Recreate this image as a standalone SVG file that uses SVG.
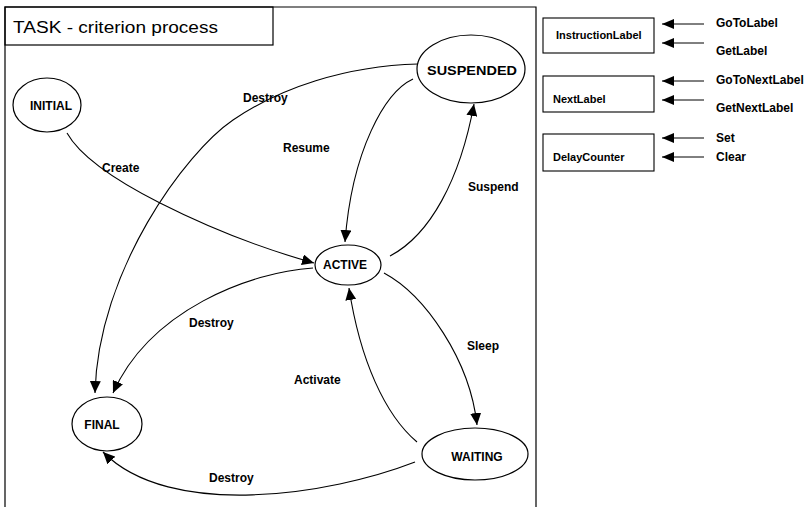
<svg xmlns="http://www.w3.org/2000/svg" width="806" height="507" viewBox="0 0 806 507">
  <style>
    .frame { fill: none; stroke: #000; stroke-width: 1.2; }
    .node { fill: #fff; stroke: #000; stroke-width: 1.2; }
    .box { fill: #fff; stroke: #000; stroke-width: 1.1; }
    .edge { fill: none; stroke: #000; stroke-width: 1.1; marker-end: url(#arrow); }
    .port { fill: none; stroke: #000; stroke-width: 1; marker-end: url(#arrowSmall); }
    .nlabel { font-family: "Liberation Sans", Arial, sans-serif; font-weight: bold; font-size: 12px; fill: #000; text-anchor: middle; }
    .elabel { font-family: "Liberation Sans", Arial, sans-serif; font-weight: bold; font-size: 12px; fill: #000; }
    .blabel { font-family: "Liberation Sans", Arial, sans-serif; font-weight: bold; font-size: 11px; fill: #000; }
    .title { font-family: "Liberation Sans", Arial, sans-serif; font-size: 16px; fill: #000; }
  </style>
  <defs>
    <marker id="arrow" viewBox="0 0 12 11" refX="12" refY="5.5" markerWidth="12" markerHeight="11" markerUnits="userSpaceOnUse" orient="auto">
      <path d="M0,0 L12,5.5 L0,11 Z" fill="#000"/>
    </marker>
    <marker id="arrowSmall" viewBox="0 0 12 10" refX="12" refY="5" markerWidth="12" markerHeight="10" markerUnits="userSpaceOnUse" orient="auto">
      <path d="M0,0 L12,5 L0,10 Z" fill="#000"/>
    </marker>
  </defs>

  <rect width="806" height="507" fill="#fff"/>

  <!-- process frame, open at the bottom -->
  <path class="frame" d="M5,507 L5,7 L536,7 L536,507"/>
  <g id="title">
    <rect class="frame" x="5" y="7" width="268" height="38"/>
    <text class="title" x="13" y="33" textLength="205" lengthAdjust="spacingAndGlyphs">TASK - criterion process</text>
  </g>

  <!-- transitions -->
  <g id="connectors">
    <path class="edge" d="M67,133 Q85,165 160,203 T314,263"/>
    <path class="edge" d="M418,64 C345,66 280,88 233,120 S98,270 95,393"/>
    <path class="edge" d="M413,79 C385,92 352,150 345,242"/>
    <path class="edge" d="M390,256 C430,235 460,180 474,104"/>
    <path class="edge" d="M313,268 C250,272 150,310 113,393"/>
    <path class="edge" d="M384,273 C425,295 470,360 477,425"/>
    <path class="edge" d="M417,442 C385,415 360,360 349,288"/>
    <path class="edge" d="M415,462 C330,495 170,520 103,452"/>

    <path class="port" d="M704,24 L662,24"/>
    <path class="port" d="M704,43 L662,43"/>
    <path class="port" d="M704,81 L662,81"/>
    <path class="port" d="M704,100 L662,100"/>
    <path class="port" d="M704,138 L662,138"/>
    <path class="port" d="M704,157 L662,157"/>
  </g>

  <!-- transition labels -->
  <g id="edge-labels">
    <text class="elabel" x="243" y="102">Destroy</text>
    <text class="elabel" x="102" y="172">Create</text>
    <text class="elabel" x="283" y="152">Resume</text>
    <text class="elabel" x="468" y="191">Suspend</text>
    <text class="elabel" x="189" y="327">Destroy</text>
    <text class="elabel" x="467" y="350">Sleep</text>
    <text class="elabel" x="294" y="384">Activate</text>
    <text class="elabel" x="209" y="482">Destroy</text>
  </g>

  <!-- states -->
  <g id="initial">
    <ellipse class="node" cx="47" cy="105" rx="34" ry="27"/>
    <text class="nlabel" x="51" y="110">INITIAL</text>
  </g>
  <g id="suspended">
    <ellipse class="node" cx="471" cy="69" rx="54" ry="34"/>
    <text class="nlabel" x="472" y="75" style="font-size:13.5px" textLength="90" lengthAdjust="spacingAndGlyphs">SUSPENDED</text>
  </g>
  <g id="active">
    <ellipse class="node" cx="348" cy="265" rx="33" ry="20"/>
    <text class="nlabel" x="345" y="269">ACTIVE</text>
  </g>
  <g id="final">
    <ellipse class="node" cx="107" cy="424" rx="35" ry="27"/>
    <text class="nlabel" x="102" y="429">FINAL</text>
  </g>
  <g id="waiting">
    <ellipse class="node" cx="475" cy="454" rx="53" ry="26"/>
    <text class="nlabel" x="477" y="461">WAITING</text>
  </g>

  <!-- data items -->
  <g id="instruction-label">
    <rect class="box" x="543" y="18" width="111" height="35"/>
    <text class="blabel" x="556" y="39">InstructionLabel</text>
  </g>
  <g id="next-label">
    <rect class="box" x="543" y="76" width="111" height="36"/>
    <text class="blabel" x="553" y="103">NextLabel</text>
  </g>
  <g id="delay-counter">
    <rect class="box" x="543" y="134" width="111" height="37"/>
    <text class="blabel" x="553" y="161">DelayCounter</text>
  </g>

  <!-- operations -->
  <g id="operations">
    <text class="elabel" x="716" y="27">GoToLabel</text>
    <text class="elabel" x="716" y="55">GetLabel</text>
    <text class="elabel" x="716" y="84">GoToNextLabel</text>
    <text class="elabel" x="716" y="112">GetNextLabel</text>
    <text class="elabel" x="716" y="142">Set</text>
    <text class="elabel" x="716" y="161">Clear</text>
  </g>
</svg>
